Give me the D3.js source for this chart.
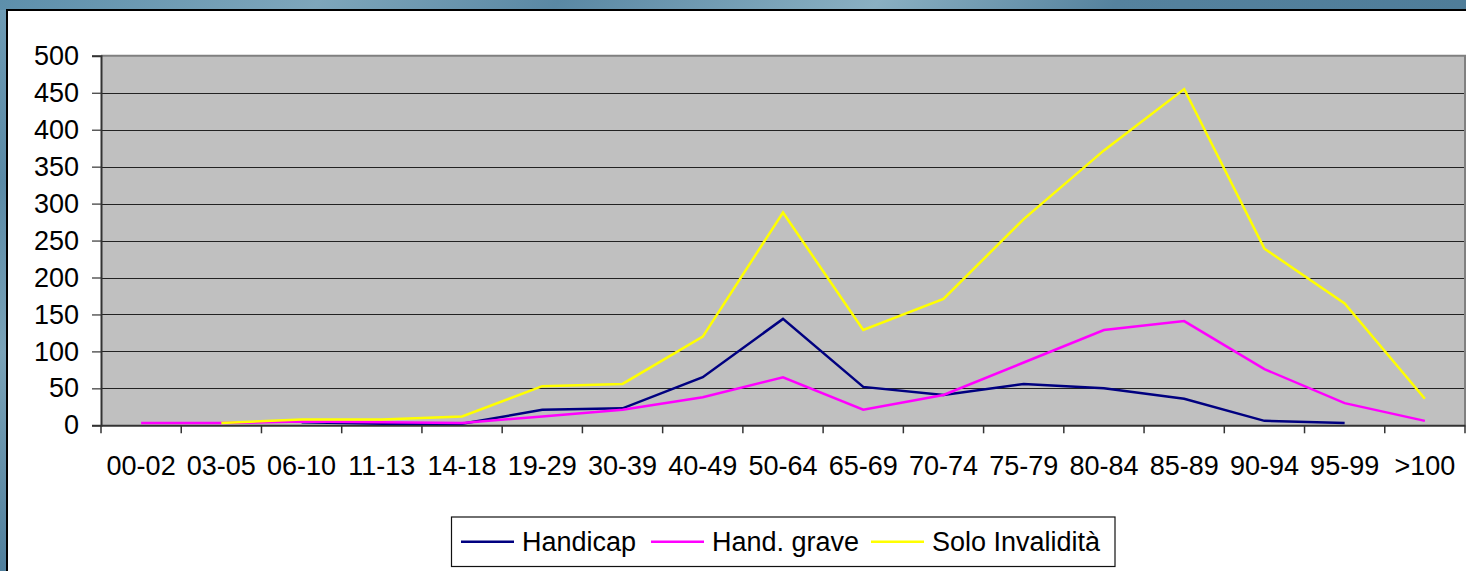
<!DOCTYPE html>
<html>
<head>
<meta charset="utf-8">
<script src="https://cdn.jsdelivr.net/npm/d3@7"></script>
<style>
  html, body { margin: 0; padding: 0; background: #fff; }
  svg { display: block; }
  text { font-family: "Liberation Sans", Arial, sans-serif; }
</style>
</head>
<body>
<svg id="chart" width="1466" height="571"></svg>
<script>
const categories = ["00-02","03-05","06-10","11-13","14-18","19-29","30-39","40-49","50-64","65-69","70-74","75-79","80-84","85-89","90-94","95-99",">100"];
const handicap   = [null, null, 4, 2, 2, 21, 23, 65, 144, 52, 41, 56, 50, 36, 6, 3, null];
const handGrave  = [3, 3, 5, 4, 3, 12, 21, 38, 65, 21, 41, 85, 129, 141, 76, 30, 6];
const soloInval  = [null, 3, 8, 8, 12, 53, 56, 120, 288, 129, 171, 279, 372, 455, 239, 165, 36];
const yTicks = [0, 50, 100, 150, 200, 250, 300, 350, 400, 450, 500];
const seriesNames = ["Handicap", "Hand. grave", "Solo Invalidità"];
const seriesColors = ["#000080", "#FF00FF", "#FFFF00"];

(function () {
const series = [handicap, handGrave, soloInval].map((vals, i) => ({
  name: seriesNames[i], color: seriesColors[i], values: vals
}));

const svg = d3.select("#chart");
const W = 1466, H = 571;

// textured blue frame background
const defs = svg.append("defs");
const grad = defs.append("linearGradient").attr("id", "bg").attr("x1", 0).attr("y1", 0).attr("x2", 1).attr("y2", 0.3);
[["0%", "#5d8fab"], ["20%", "#7ea6bb"], ["35%", "#5a88a4"], ["55%", "#8ab0c2"], ["70%", "#55829e"], ["100%", "#4d7b97"]]
  .forEach(([o, c]) => grad.append("stop").attr("offset", o).attr("stop-color", c));
const gradL = defs.append("linearGradient").attr("id", "bgL").attr("x1", 0).attr("y1", 0).attr("x2", 0).attr("y2", 1);
[["0%", "#6e9bb4"], ["30%", "#5a8aa6"], ["60%", "#7aa3b8"], ["100%", "#4f7e9b"]]
  .forEach(([o, c]) => gradL.append("stop").attr("offset", o).attr("stop-color", c));
svg.append("rect").attr("x", 0).attr("y", 0).attr("width", W).attr("height", H).attr("fill", "url(#bg)");
svg.append("rect").attr("x", 0).attr("y", 10).attr("width", 8).attr("height", H).attr("fill", "url(#bgL)");

// chart area
svg.append("rect").attr("x", 7).attr("y", 10).attr("width", W + 10).attr("height", H + 10)
  .attr("fill", "#fff").attr("stroke", "#000").attr("stroke-width", 2);

const pLeft = 101, pRight = 1465, pTop = 55.8, pBottom = 425.3;
const x = d3.scaleBand().domain(categories).range([pLeft, pRight]).padding(0);
const y = d3.scaleLinear().domain([0, 500]).range([pBottom, pTop]);

// plot area
svg.append("rect").attr("x", pLeft).attr("y", pTop).attr("width", pRight - pLeft).attr("height", pBottom - pTop)
  .attr("fill", "#C0C0C0");

// gridlines
svg.append("g").selectAll("line").data(yTicks.filter(d => d > 0 && d < 500)).join("line")
  .attr("x1", pLeft).attr("x2", pRight)
  .attr("y1", d => Math.round(y(d)) + 0.5).attr("y2", d => Math.round(y(d)) + 0.5)
  .attr("stroke", "#222").attr("stroke-width", 1.2);

// plot border top/right
svg.append("path")
  .attr("d", `M${pLeft},${pTop} H${pRight} V${pBottom}`)
  .attr("fill", "none").attr("stroke", "#808080").attr("stroke-width", 2);

// y axis
const yAxis = d3.axisLeft(y).tickValues(yTicks).tickSize(9).tickPadding(13).tickFormat(d3.format("d"));
const gy = svg.append("g").attr("transform", `translate(${pLeft},0)`).call(yAxis);
gy.select(".domain").attr("stroke", "#333").attr("stroke-width", 2);
gy.selectAll(".tick line").attr("stroke", "#333").attr("stroke-width", 1.2);
gy.selectAll(".tick text").attr("font-size", 27).attr("fill", "#000")
  .attr("font-family", "'Liberation Sans', Arial, sans-serif");

// x axis
const xAxis = d3.axisBottom(x).tickSize(0).tickPadding(0);
const gx = svg.append("g").attr("transform", `translate(0,${pBottom})`).call(xAxis);
gx.select(".domain").attr("stroke", "#333").attr("stroke-width", 2);
gx.selectAll(".tick text").attr("font-size", 27).attr("fill", "#000")
  .attr("font-family", "'Liberation Sans', Arial, sans-serif")
  .attr("dy", null).attr("y", 49.5);
// boundary ticks between categories
const boundaries = categories.map(c => x(c)).concat([pRight]);
svg.append("g").selectAll("line").data(boundaries).join("line")
  .attr("x1", d => d).attr("x2", d => d)
  .attr("y1", pBottom).attr("y2", pBottom + 8)
  .attr("stroke", "#333").attr("stroke-width", 1.5);

// lines
const line = d3.line()
  .defined(d => d.v !== null)
  .x(d => x(d.c) + x.bandwidth() / 2)
  .y(d => y(d.v));

svg.append("g").selectAll("path").data(series).join("path")
  .attr("d", s => line(s.values.map((v, i) => ({ c: categories[i], v }))))
  .attr("fill", "none")
  .attr("stroke", s => s.color)
  .attr("stroke-width", 2.5)
  .attr("stroke-linejoin", "miter");

// legend
const lg = svg.append("g");
const boxX = 451.5, boxY = 517, boxH = 49.5;
const itemStarts = [461, 651, 871];
const items = lg.selectAll("g").data(series).join("g")
  .attr("transform", (d, i) => `translate(${itemStarts[i]},${boxY + boxH / 2})`);
items.append("line").attr("x1", 0).attr("x2", 53).attr("y1", 0).attr("y2", 0)
  .attr("stroke", d => d.color).attr("stroke-width", 2.5);
items.append("text").attr("x", 61).attr("y", 0).attr("dy", "0.35em")
  .attr("font-size", 27).attr("fill", "#000").text(d => d.name);
lg.insert("rect", ":first-child").attr("x", boxX).attr("y", boxY).attr("width", 1115 - boxX).attr("height", boxH)
  .attr("fill", "#fff").attr("stroke", "#111").attr("stroke-width", 1.2);
})();
</script>
</body>
</html>
